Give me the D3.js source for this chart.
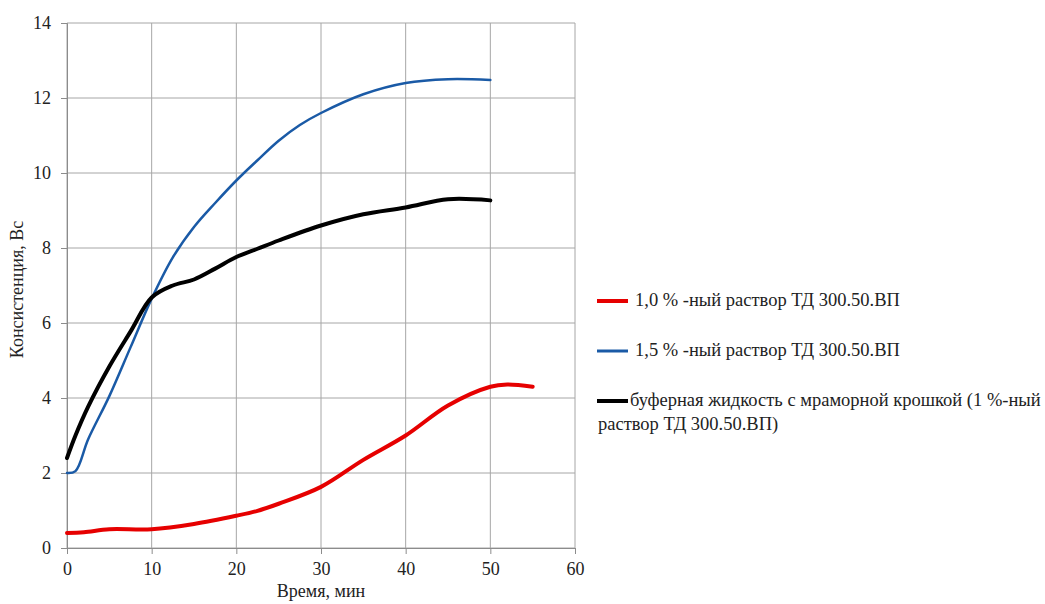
<!DOCTYPE html>
<html><head><meta charset="utf-8">
<script src="https://cdn.jsdelivr.net/npm/d3@7"></script>
<style>body{margin:0;background:#fff}svg{display:block}svg text{font-family:'Liberation Serif','Times New Roman',serif}</style>
</head><body><svg id="c" width="1045" height="604"></svg>
<script>
const xTicks = [0,10,20,30,40,50,60];
const yTicks = [0,2,4,6,8,10,12,14];
const redX = [0,2,5,10,15,20,22.5,25,30,35,40,45,50,52,55];
const redY = [0.4,0.42,0.5,0.5,0.64,0.86,0.99,1.18,1.63,2.35,3.0,3.8,4.3,4.36,4.3];
const blueX = [0,1,2.5,5,7.5,10,12.5,15,17.5,20,22.5,25,27.5,30,35,40,45,50];
const blueY = [2.0,2.05,2.9,4.05,5.35,6.65,7.75,8.56,9.2,9.8,10.34,10.86,11.28,11.6,12.1,12.4,12.5,12.48];
const blackX = [0,1,2.5,5,7.5,10,12.5,15,17.5,20,22.5,25,30,35,40,45,50];
const blackY = [2.4,3.0,3.77,4.84,5.77,6.68,7.0,7.16,7.45,7.76,7.98,8.2,8.6,8.9,9.08,9.3,9.27];
const seriesNames = ["1,0 % -ный раствор ТД 300.50.ВП","1,5 % -ный раствор ТД 300.50.ВП","буферная жидкость с мраморной крошкой (1 %-ный|раствор ТД 300.50.ВП)"];
const colors = ["#e60000","#1a5aa6","#000000"];
const widths = [4,2.5,4];

const svg = d3.select("#c");
const x = d3.scaleLinear().domain([0,60]).range([67,575]);
const y = d3.scaleLinear().domain([0,14]).range([548,23]);

svg.append("g").selectAll("line").data(yTicks).join("line")
  .attr("x1",x(0)).attr("x2",x(60)).attr("y1",d=>y(d)).attr("y2",d=>y(d))
  .attr("stroke","#a6a6a6").attr("stroke-width",1);
svg.append("g").selectAll("line").data(xTicks).join("line")
  .attr("y1",y(0)).attr("y2",y(14)).attr("x1",d=>x(d)).attr("x2",d=>x(d))
  .attr("stroke","#a6a6a6").attr("stroke-width",1);

const xa = svg.append("g").attr("transform",`translate(0,${y(0)})`)
  .call(d3.axisBottom(x).tickValues(xTicks).tickSize(6).tickPadding(8));
const ya = svg.append("g").attr("transform",`translate(${x(0)},0)`)
  .call(d3.axisLeft(y).tickValues(yTicks).tickSize(6).tickPadding(10));
[xa,ya].forEach(a=>{
  a.attr("font-size",18);
  a.select(".domain").attr("stroke","#8c8c8c");
  a.selectAll(".tick line").attr("stroke","#8c8c8c");
  a.selectAll("text").attr("fill","#222");
});

svg.append("text").attr("x",x(30)).attr("y",597).attr("text-anchor","middle").attr("font-size",18).attr("fill","#222").text("Время, мин");
svg.append("text").attr("transform",`translate(23,${(y(0)+y(14))/2+4}) rotate(-90)`).attr("text-anchor","middle").attr("font-size",18).attr("fill","#222").text("Консистенция, Вс");

const line = d3.line().x(d=>x(d[0])).y(d=>y(d[1])).curve(d3.curveCatmullRom.alpha(0.5));
const data = [d3.zip(redX,redY), d3.zip(blueX,blueY), d3.zip(blackX,blackY)];
data.forEach((s,i)=>{
  svg.append("path").datum(s).attr("d",line).attr("fill","none")
    .attr("stroke",colors[i]).attr("stroke-width",widths[i]).attr("stroke-linecap","round");
});

const ly = [301,351,401];
seriesNames.forEach((n,i)=>{
  svg.append("line").attr("x1",597).attr("x2",628).attr("y1",ly[i]).attr("y2",ly[i])
    .attr("stroke",colors[i]).attr("stroke-width",i==1?3:4);
  const parts = n.split("|");
  const t = svg.append("text").attr("y",ly[i]+5).attr("font-size",18.5).attr("fill","#222");
  parts.forEach((p,k)=>t.append("tspan").attr("x",k==0?(i==2?630:635):598).attr("dy",k==0?0:24).text(p));
});
</script></body></html>
